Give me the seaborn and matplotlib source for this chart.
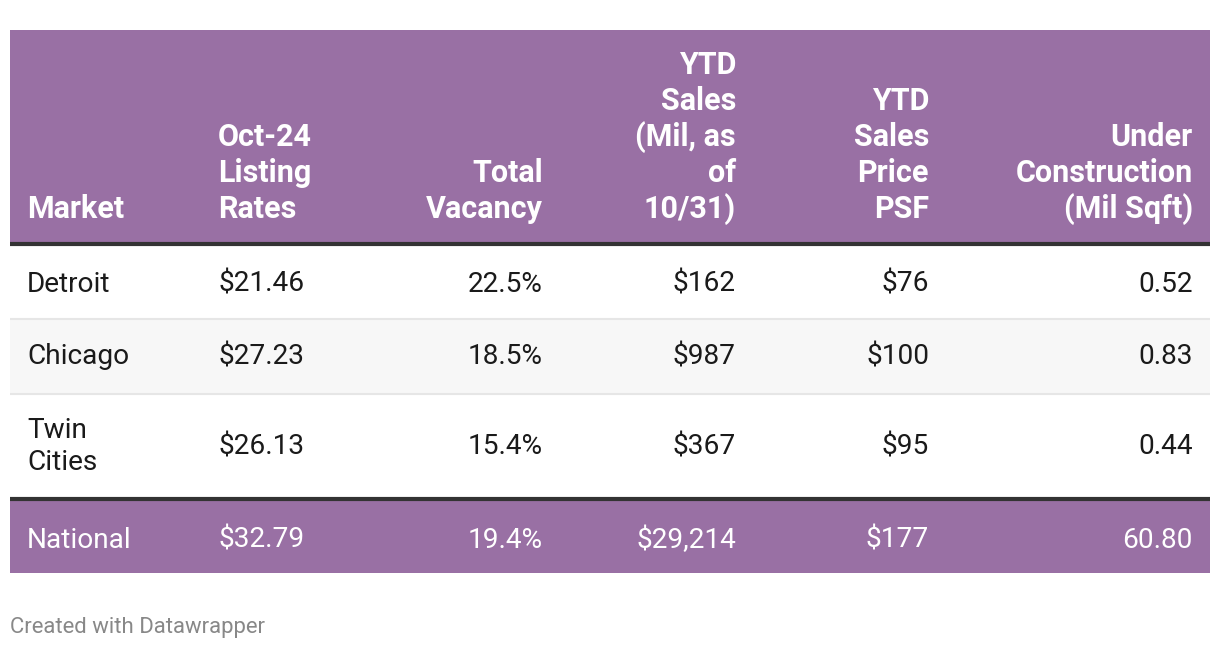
import matplotlib.pyplot as plt
import pandas as pd
import seaborn as sns

# table data
markets = ["Detroit", "Chicago", "Twin\nCities", "National"]
listing_rates = [21.46, 27.23, 26.13, 32.79]
vacancy = [22.5, 18.5, 15.4, 19.4]
ytd_sales = [162, 987, 367, 29214]
price_psf = [76, 100, 95, 177]
under_construction = [0.52, 0.83, 0.44, 60.80]

headers = ["Market", "Oct-24\nListing\nRates", "Total\nVacancy",
           "YTD\nSales\n(Mil, as\nof\n10/31)", "YTD\nSales\nPrice\nPSF",
           "Under\nConstruction\n(Mil Sqft)"]

df = pd.DataFrame({
    "market": markets,
    "listing": ["${:.2f}".format(v) for v in listing_rates],
    "vacancy": ["{:.1f}%".format(v) for v in vacancy],
    "sales": ["${:,}".format(v) for v in ytd_sales],
    "price": ["${}".format(v) for v in price_psf],
    "constr": ["{:.2f}".format(v) for v in under_construction],
})

sns.set_theme(style="white")
plt.rcParams['font.family'] = ['Roboto', 'DejaVu Sans']

purple = "#9970a4"
dark = "#333333"
txt = "#1a1a1a"

fig = plt.figure(figsize=(12.2, 6.5), dpi=100)
ax = fig.add_axes([0, 0, 1, 1])
ax.set_xlim(0, 1220)
ax.set_ylim(650, 0)
ax.axis("off")

# column anchors: (x, alignment)
cols = [(27, "left"), (218, "left"), (543, "right"), (736, "right"), (929, "right"), (1193, "right")]

# row bands: (top, bottom, colour)
bands = [(30, 243, purple), (245, 318, "white"), (319, 393, "#f7f7f7"),
         (394, 498, "white"), (500, 573, purple)]
for top, bot, c in bands:
    ax.axhspan(top, bot, xmin=10 / 1220, xmax=1210 / 1220, color=c, lw=0)

# rules
ax.plot([10, 1210], [244, 244], color=dark, lw=3, solid_capstyle="butt")
ax.plot([10, 1210], [499, 499], color=dark, lw=3, solid_capstyle="butt")
for y in [318.5, 393.5]:
    ax.plot([10, 1210], [y, y], color="#e6e6e6", lw=1.5, solid_capstyle="butt")

# header, bottom aligned lines
for (x, ha), h in zip(cols, headers):
    lines = h.split("\n")
    for k, line in enumerate(reversed(lines)):
        ax.text(x, 209 - 36 * k, line, ha=ha, va="center", color="white",
                fontsize=22, fontweight="bold")

# body rows
row_y = [284, 357, 447, 540]
for i, y in enumerate(row_y):
    color = "white" if i == 3 else txt
    for j, ((x, ha), key) in enumerate(zip(cols, df.columns)):
        val = df.iloc[i][key]
        if "\n" in val:
            parts = val.split("\n")
            for k, p in enumerate(parts):
                ax.text(x, y - 16 + 32 * k, p, ha=ha, va="center", color=color, fontsize=20.2)
        else:
            ax.text(x, y, val, ha=ha, va="center", color=color, fontsize=20.2)

ax.text(10, 628, "Created with Datawrapper", ha="left", va="center", color="#888888", fontsize=15.9)

fig.savefig("out.png", dpi=100)
